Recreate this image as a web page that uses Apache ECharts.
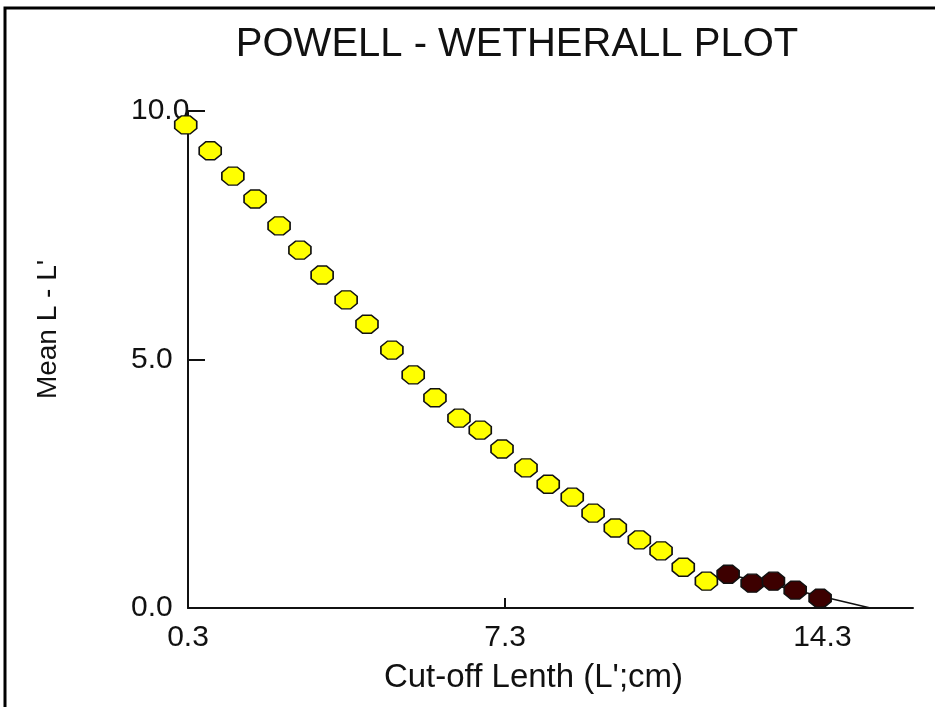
<!DOCTYPE html>
<html>
<head>
<meta charset="utf-8">
<script src="https://cdn.jsdelivr.net/npm/echarts@6/dist/echarts.min.js"></script>
<style>
  html, body { margin: 0; padding: 0; background: #fff; }
  #chart { width: 935px; height: 707px; }
</style>
</head>
<body>
<div id="chart"></div>
<script>
// cut-off length L' (cm) and mean L - L' for the points used as-is (yellow)
var cutOff = [0.25, 0.79, 1.29, 1.78, 2.31, 2.77, 3.26, 3.79, 4.25, 4.80, 5.27, 5.75,
              6.28, 6.75, 7.23, 7.76, 8.25, 8.78, 9.24, 9.73, 10.26, 10.74, 11.23, 11.74];
var meanDiff = [9.72, 9.20, 8.69, 8.23, 7.69, 7.20, 6.70, 6.20, 5.71, 5.19, 4.69, 4.23,
                3.82, 3.58, 3.20, 2.82, 2.49, 2.23, 1.91, 1.61, 1.37, 1.15, 0.82, 0.54];
// points used for the regression (dark)
var fitCutOff = [12.22, 12.75, 13.22, 13.70, 14.25];
var fitMeanDiff = [0.68, 0.50, 0.54, 0.36, 0.20];
// regression line end points
var lineX = [12.22, 15.36];
var lineY = [0.68, 0.00];
var xTicks = [0.3, 7.3, 14.3];

var font = "'Liberation Sans', Arial, sans-serif";
var marker = 'path://M3,0 L7,0 L10,3 L10,7 L7,10 L3,10 L0,7 L0,3 Z';

function pairs(xs, ys) {
  var out = [];
  for (var i = 0; i < xs.length; i++) out.push([xs[i], ys[i]]);
  return out;
}

var chart = echarts.init(document.getElementById('chart'));
chart.setOption({
  backgroundColor: '#fff',
  animation: false,
  title: {
    text: 'POWELL - WETHERALL PLOT',
    left: 512, top: 20, textAlign: 'center',
    textStyle: { fontFamily: font, fontSize: 40, fontWeight: 'normal', color: '#111' }
  },
  grid: { left: 188, right: 22, top: 111, bottom: 99 },
  xAxis: {
    type: 'value', min: 0.3, max: 16.3,
    name: "Cut-off Lenth (L';cm)", nameLocation: 'middle', nameGap: 53,
    nameTextStyle: { fontFamily: font, fontSize: 33, color: '#111', padding: [0, 34, 0, 0] },
    axisLine: { lineStyle: { color: '#111', width: 2 } },
    axisTick: { inside: true, length: 10, lineStyle: { color: '#111', width: 2 }, customValues: xTicks },
    axisLabel: { fontFamily: font, fontSize: 30, color: '#111', margin: 15, customValues: xTicks,
      formatter: function (v) { return v.toFixed(1); } },
    splitLine: { show: false }
  },
  yAxis: {
    type: 'value', min: 0, max: 10, interval: 5,
    name: "Mean L - L'", nameLocation: 'middle', nameGap: 126, nameRotate: 90,
    nameTextStyle: { fontFamily: font, fontSize: 28, color: '#111', padding: [0, 0, 0, 60] },
    axisLine: { lineStyle: { color: '#111', width: 2 } },
    axisTick: { inside: true, length: 17, lineStyle: { color: '#111', width: 2 } },
    axisLabel: { fontFamily: font, fontSize: 30, color: '#111', margin: 57, align: 'left',
      padding: [0, 0, 8, 0],
      formatter: function (v) { return v.toFixed(1); } },
    splitLine: { show: false }
  },
  series: [
    {
      type: 'line', data: pairs(lineX, lineY), symbol: 'none', z: 1,
      lineStyle: { color: '#111', width: 1.5 }
    },
    {
      type: 'scatter', data: pairs(cutOff, meanDiff), symbol: marker, symbolSize: [22, 18], z: 3,
      clip: false,
      itemStyle: { color: '#ffff00', borderColor: '#111', borderWidth: 1.5, opacity: 1 }
    },
    {
      type: 'scatter', data: pairs(fitCutOff, fitMeanDiff), symbol: marker, symbolSize: [22, 18], z: 3,
      clip: false,
      itemStyle: { color: '#3d0000', borderColor: '#111', borderWidth: 1.5, opacity: 1 }
    }
  ],
  graphic: [{
    type: 'polyline',
    shape: { points: [[5, 707], [5, 8], [935, 8]] },
    style: { stroke: '#000', lineWidth: 3, fill: null }
  }]
});
</script>
</body>
</html>
